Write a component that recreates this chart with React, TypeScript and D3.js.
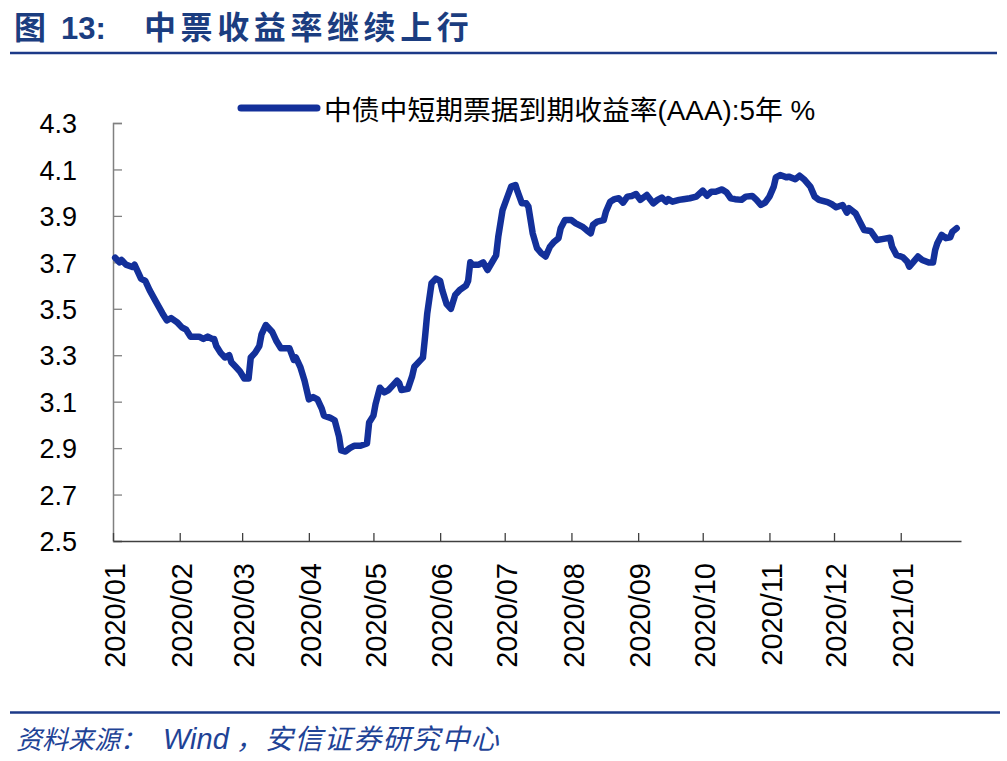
import * as d3 from "d3";
import { useRef, useEffect } from "react";

// 中债中短期票据到期收益率(AAA):5年
const tradeDates = [
  "2020-01-02", "2020-01-04", "2020-01-05", "2020-01-07", "2020-01-10", "2020-01-11", "2020-01-13", "2020-01-14",
  "2020-01-16", "2020-01-18", "2020-01-21", "2020-01-24", "2020-01-26", "2020-01-28", "2020-01-31", "2020-02-02",
  "2020-02-04", "2020-02-06", "2020-02-08", "2020-02-10", "2020-02-12", "2020-02-14", "2020-02-16", "2020-02-17",
  "2020-02-18", "2020-02-20", "2020-02-22", "2020-02-24", "2020-02-25", "2020-02-27", "2020-02-29", "2020-03-02",
  "2020-03-04", "2020-03-05", "2020-03-07", "2020-03-09", "2020-03-10", "2020-03-12", "2020-03-15", "2020-03-17",
  "2020-03-19", "2020-03-21", "2020-03-23", "2020-03-25", "2020-03-26", "2020-03-28", "2020-03-30", "2020-04-01",
  "2020-04-03", "2020-04-05", "2020-04-07", "2020-04-08", "2020-04-11", "2020-04-13", "2020-04-15", "2020-04-16",
  "2020-04-18", "2020-04-20", "2020-04-22", "2020-04-25", "2020-04-28", "2020-04-29", "2020-05-01", "2020-05-02",
  "2020-05-04", "2020-05-06", "2020-05-08", "2020-05-10", "2020-05-12", "2020-05-13", "2020-05-14", "2020-05-17",
  "2020-05-19", "2020-05-20", "2020-05-23", "2020-05-24", "2020-05-25", "2020-05-26", "2020-05-28", "2020-05-30",
  "2020-06-01", "2020-06-02", "2020-06-04", "2020-06-06", "2020-06-08", "2020-06-10", "2020-06-13", "2020-06-14",
  "2020-06-15", "2020-06-16", "2020-06-19", "2020-06-21", "2020-06-23", "2020-06-27", "2020-06-28", "2020-06-30",
  "2020-07-02", "2020-07-04", "2020-07-06", "2020-07-07", "2020-07-09", "2020-07-11", "2020-07-12", "2020-07-14",
  "2020-07-16", "2020-07-18", "2020-07-20", "2020-07-22", "2020-07-24", "2020-07-26", "2020-07-27", "2020-07-29",
  "2020-08-01", "2020-08-03", "2020-08-06", "2020-08-08", "2020-08-10", "2020-08-11", "2020-08-13", "2020-08-16",
  "2020-08-17", "2020-08-19", "2020-08-21", "2020-08-23", "2020-08-25", "2020-08-27", "2020-08-29", "2020-08-31",
  "2020-09-02", "2020-09-05", "2020-09-08", "2020-09-10", "2020-09-12", "2020-09-14", "2020-09-15", "2020-09-17",
  "2020-09-20", "2020-09-22", "2020-09-25", "2020-09-28", "2020-10-01", "2020-10-03", "2020-10-05", "2020-10-07",
  "2020-10-10", "2020-10-12", "2020-10-14", "2020-10-16", "2020-10-19", "2020-10-21", "2020-10-24", "2020-10-26",
  "2020-10-28", "2020-10-30", "2020-11-01", "2020-11-03", "2020-11-04", "2020-11-06", "2020-11-09", "2020-11-10",
  "2020-11-13", "2020-11-15", "2020-11-17", "2020-11-20", "2020-11-22", "2020-11-24", "2020-11-28", "2020-11-30",
  "2020-12-02", "2020-12-05", "2020-12-07", "2020-12-08", "2020-12-11", "2020-12-13", "2020-12-15", "2020-12-18",
  "2020-12-21", "2020-12-24", "2020-12-27", "2020-12-28", "2020-12-30", "2021-01-02", "2021-01-04", "2021-01-05",
  "2021-01-07", "2021-01-09", "2021-01-11", "2021-01-14", "2021-01-16", "2021-01-17", "2021-01-18", "2021-01-20",
  "2021-01-22", "2021-01-24", "2021-01-25", "2021-01-27",
];

const yieldValues = [
  3.72, 3.70, 3.71, 3.69, 3.68, 3.69, 3.65, 3.63,
  3.62, 3.58, 3.53, 3.48, 3.45, 3.46, 3.44, 3.42,
  3.41, 3.38, 3.38, 3.38, 3.37, 3.38, 3.37, 3.37,
  3.34, 3.31, 3.29, 3.30, 3.27, 3.25, 3.23, 3.20,
  3.20, 3.29, 3.31, 3.34, 3.39, 3.43, 3.40, 3.36,
  3.33, 3.33, 3.33, 3.28, 3.29, 3.25, 3.19, 3.11,
  3.12, 3.11, 3.07, 3.04, 3.03, 3.02, 2.95, 2.89,
  2.885, 2.90, 2.91, 2.91, 2.92, 3.01, 3.04, 3.09,
  3.16, 3.14, 3.15, 3.17, 3.19, 3.18, 3.15, 3.155,
  3.21, 3.25, 3.28, 3.29, 3.38, 3.48, 3.61, 3.63,
  3.62, 3.58, 3.52, 3.50, 3.56, 3.58, 3.60, 3.62,
  3.70, 3.69, 3.69, 3.70, 3.667, 3.73, 3.81, 3.925,
  3.976, 4.026, 4.033, 4.004, 3.954, 3.954, 3.94, 3.825,
  3.761, 3.739, 3.725, 3.767, 3.789, 3.804, 3.847, 3.882,
  3.882, 3.868, 3.854, 3.839, 3.825, 3.861, 3.875, 3.882,
  3.918, 3.961, 3.972, 3.976, 3.957, 3.983, 3.986, 3.994,
  3.969, 3.99, 3.954, 3.969, 3.979, 3.961, 3.972, 3.961,
  3.969, 3.972, 3.976, 3.983, 4.009, 3.987, 4.004, 4.004,
  4.014, 4.002, 3.976, 3.972, 3.969, 3.983, 3.986, 3.969,
  3.947, 3.957, 3.983, 4.026, 4.066, 4.076, 4.066, 4.069,
  4.058, 4.073, 4.058, 4.026, 3.983, 3.969, 3.959, 3.95,
  3.937, 3.947, 3.914, 3.933, 3.911, 3.875, 3.839, 3.835,
  3.796, 3.801, 3.806, 3.767, 3.732, 3.722, 3.703, 3.681,
  3.703, 3.725, 3.71, 3.699, 3.699, 3.753, 3.782, 3.818,
  3.804, 3.808, 3.832, 3.847,
];

const yTicks = [2.5, 2.7, 2.9, 3.1, 3.3, 3.5, 3.7, 3.9, 4.1, 4.3];
const monthTicks = [
  "2020-01-01", "2020-02-01", "2020-03-01", "2020-04-01", "2020-05-01", "2020-06-01", "2020-07-01",
  "2020-08-01", "2020-09-01", "2020-10-01", "2020-11-01", "2020-12-01", "2021-01-01",
];
const axisStart = "2020-01-01";
const axisEnd = "2021-01-29";

const seriesName = "中债中短期票据到期收益率(AAA):5年  %";

export default function App() {
  const ref = useRef(null);

  const width = 1007;
  const height = 761;
  const marginLeft = 113;
  const marginRight = 961;
  const plotTop = 123;
  const plotBottom = 541;

  const lineColor = "#13309a";
  const titleColor = "#1b3d80";
  const latin = "'Liberation Sans', Arial, sans-serif";
  const cjk = "'Liberation Sans', 'Noto Sans CJK SC', sans-serif";
  const cjkOnly = "'Noto Sans CJK SC', sans-serif";

  useEffect(() => {
    const parse = d3.timeParse("%Y-%m-%d");
    const data = tradeDates.map((d, i) => ({ date: parse(d), value: yieldValues[i] }));

    const svg = d3.select(ref.current);
    svg.selectAll("*").remove();

    const x = d3.scaleTime()
      .domain([parse(axisStart), parse(axisEnd)])
      .range([marginLeft, marginRight]);

    const y = d3.scaleLinear()
      .domain([2.5, 4.3])
      .range([plotBottom, plotTop]);

    // title and rules
    const title = svg.append("g").attr("fill", titleColor).attr("font-weight", "bold");
    title.append("text").attr("x", 14).attr("y", 39).attr("font-size", 32)
      .attr("font-family", cjkOnly).text("图");
    title.append("text").attr("x", 61).attr("y", 39).attr("font-size", 31)
      .attr("font-family", latin).text("13:");
    title.append("text").attr("x", 144).attr("y", 39).attr("font-size", 32)
      .attr("letter-spacing", 4.6)
      .attr("font-family", cjkOnly).text("中票收益率继续上行");

    svg.append("line").attr("x1", 10).attr("x2", 997).attr("y1", 53).attr("y2", 53)
      .attr("stroke", "#1c3a88").attr("stroke-width", 2.5);
    svg.append("line").attr("x1", 10).attr("x2", 1000).attr("y1", 712.5).attr("y2", 712.5)
      .attr("stroke", "#1c3a88").attr("stroke-width", 2.5);

    // source note
    const note = svg.append("text").attr("y", 749).attr("fill", "#1f4396")
      .attr("font-style", "italic");
    note.append("tspan").attr("x", 16).attr("font-size", 26)
      .attr("font-family", cjkOnly).text("资料来源：");
    note.append("tspan").attr("x", 163).attr("font-size", 29)
      .attr("font-family", latin).text("Wind");
    note.append("tspan").attr("x", 236).attr("font-size", 27)
      .attr("font-family", cjkOnly).text("，");
    note.append("tspan").attr("x", 265).attr("font-size", 28).attr("letter-spacing", 1.4)
      .attr("font-family", cjkOnly).text("安信证券研究中心");

    // y axis, ticks pointing inwards
    const yAxis = svg.append("g")
      .attr("transform", `translate(${marginLeft},0)`)
      .call(d3.axisLeft(y).tickValues(yTicks).tickSize(-9).tickPadding(36)
        .tickFormat(d3.format(".1f")));
    yAxis.attr("font-size", 27).attr("font-family", latin);
    yAxis.select(".domain").attr("stroke", "#808080").attr("stroke-width", 1.5);
    yAxis.selectAll(".tick line").attr("stroke", "#808080").attr("stroke-width", 1.3);
    yAxis.selectAll(".tick text").attr("fill", "#000").attr("dy", "0.36em");

    // x axis with month labels turned upright
    const xAxis = svg.append("g")
      .attr("transform", `translate(0,${plotBottom})`)
      .call(d3.axisBottom(x).tickValues(monthTicks.map(parse)).tickSize(-8).tickSizeOuter(0)
        .tickFormat(d3.timeFormat("%Y/%m")));
    xAxis.attr("font-size", 29).attr("font-family", latin);
    xAxis.select(".domain").attr("stroke", "#404040").attr("stroke-width", 1.5);
    xAxis.selectAll(".tick line").attr("stroke", "#404040").attr("stroke-width", 1.3);
    xAxis.selectAll(".tick text")
      .attr("fill", "#000")
      .attr("transform", "rotate(-90)")
      .attr("text-anchor", "end")
      .attr("x", -22)
      .attr("y", 0)
      .attr("dy", "0.4em");

    // the series
    const line = d3.line()
      .x((d) => x(d.date))
      .y((d) => y(d.value));

    svg.append("path")
      .datum(data)
      .attr("fill", "none")
      .attr("stroke", lineColor)
      .attr("stroke-width", 6.5)
      .attr("stroke-linejoin", "round")
      .attr("stroke-linecap", "round")
      .attr("d", line);

    // legend
    const legend = svg.append("g");
    legend.append("line").attr("x1", 241).attr("x2", 317).attr("y1", 108).attr("y2", 108)
      .attr("stroke", lineColor).attr("stroke-width", 7).attr("stroke-linecap", "round");
    legend.append("text").attr("x", 324).attr("y", 120).attr("font-size", 27.8)
      .attr("font-family", cjk).attr("fill", "#000").text(seriesName);
  }, []);

  return (
    <svg ref={ref} width={width} height={height} viewBox={`0 0 ${width} ${height}`}
      style={{ position: "absolute", left: 0, top: 0, background: "#fff" }} />
  );
}
